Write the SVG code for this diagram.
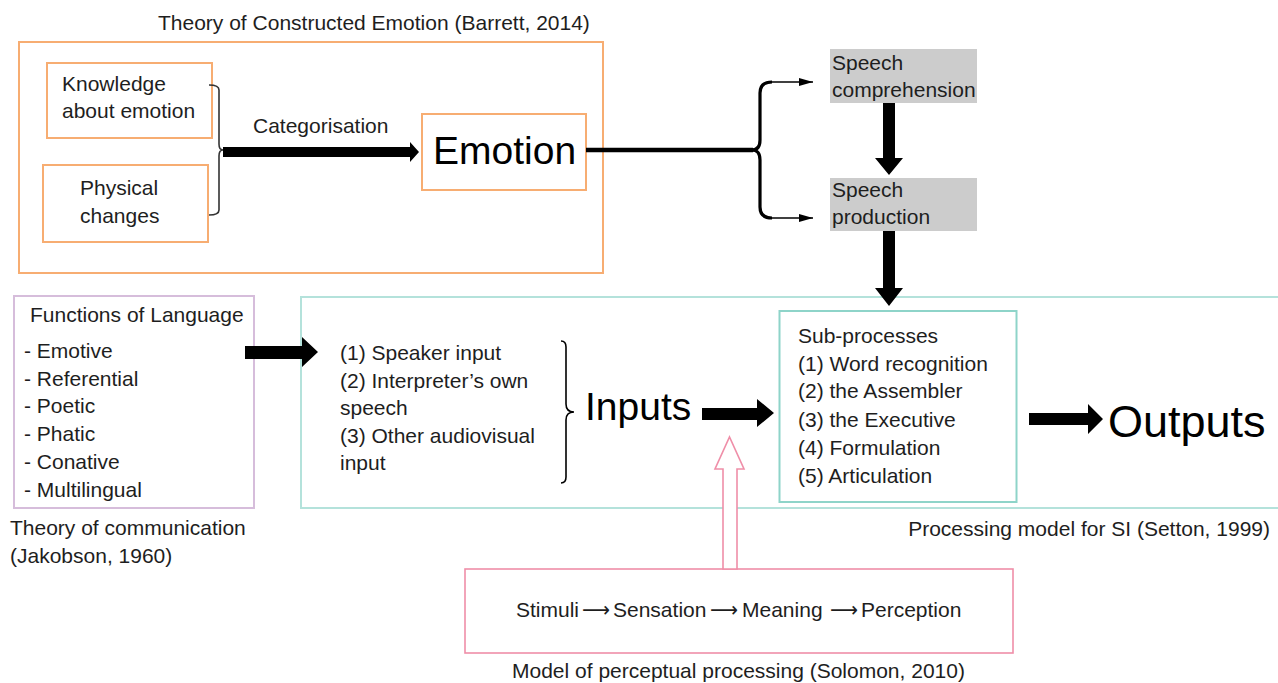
<svg xmlns="http://www.w3.org/2000/svg" width="1278" height="683" viewBox="0 0 1278 683">
  <style>
    text { font-family: "Liberation Sans", Arial, sans-serif; font-size: 21px; fill: #1e1e1e; }
    .big { font-size: 39px; fill: #000; }
    .huge { font-size: 45px; fill: #000; }
    .orange { fill: #fff; stroke: #f7ad72; stroke-width: 2; }
    .teal-outer { fill: none; stroke: #b4e2db; stroke-width: 2; }
    .teal { fill: none; stroke: #8ed4c9; stroke-width: 2; }
    .purple { fill: none; stroke: #d6bddb; stroke-width: 2; }
    .pink { fill: #fff; stroke: #ef8ea8; stroke-width: 1.6; }
    .grey { fill: #cccccc; }
    .solid { fill: #000; }
    .thin { fill: none; stroke: #000; stroke-width: 1.6; }
    .arr { font-family: "DejaVu Sans", sans-serif; font-size: 21px; }
  </style>
  <defs>
    <marker id="head" markerWidth="14" markerHeight="8" refX="14" refY="4" orient="auto" markerUnits="userSpaceOnUse">
      <path d="M0,0 L14,4 L0,8 Z" fill="#000"/>
    </marker>
  </defs>

  <rect width="1278" height="683" fill="#fff"/>

  <!-- Theory of Constructed Emotion -->
  <g id="constructed-emotion">
    <rect class="orange" x="19" y="42" width="584" height="231"/>
    <text x="158" y="30">Theory of Constructed Emotion (Barrett, 2014)</text>
  </g>
  <g id="knowledge">
    <rect class="orange" x="47" y="63" width="165" height="75"/>
    <text x="62" y="91">Knowledge</text>
    <text x="62" y="118">about emotion</text>
  </g>
  <g id="physical">
    <rect class="orange" x="43" y="165" width="165" height="77"/>
    <text x="80" y="195">Physical</text>
    <text x="80" y="223">changes</text>
  </g>
  <g id="emotion">
    <rect class="orange" x="422" y="114" width="164" height="76"/>
    <text class="big" x="433" y="164">Emotion</text>
  </g>

  <!-- Speech stages -->
  <g id="comprehension">
    <rect class="grey" x="830" y="49" width="147" height="54"/>
    <text x="832" y="70">Speech</text>
    <text x="832" y="97">comprehension</text>
  </g>
  <g id="production">
    <rect class="grey" x="830" y="178" width="147" height="53"/>
    <text x="832" y="197">Speech</text>
    <text x="832" y="224">production</text>
  </g>

  <!-- Functions of language -->
  <g id="functions">
    <rect class="purple" x="14" y="296" width="240" height="212"/>
    <text x="30" y="322">Functions of Language</text>
    <text x="24" y="358">- Emotive</text>
    <text x="24" y="386">- Referential</text>
    <text x="24" y="413">- Poetic</text>
    <text x="24" y="441">- Phatic</text>
    <text x="24" y="469">- Conative</text>
    <text x="24" y="497">- Multilingual</text>
    <text x="10" y="535">Theory of communication</text>
    <text x="10" y="563">(Jakobson, 1960)</text>
  </g>

  <!-- Processing model for SI -->
  <g id="processing-model">
    <rect class="teal-outer" x="301" y="297" width="1010" height="211"/>
    <text x="1270" y="536" text-anchor="end">Processing model for SI (Setton, 1999)</text>
  </g>
  <g id="inputs">
    <text x="340" y="360">(1) Speaker input</text>
    <text x="340" y="388">(2) Interpreter’s own</text>
    <text x="340" y="415">speech</text>
    <text x="340" y="443">(3) Other audiovisual</text>
    <text x="340" y="470">input</text>
    <path class="thin" d="M561,341 Q566,341 566,347 L566,404 Q566,412 574,412 Q566,412 566,420 L566,477 Q566,483 561,483" stroke-width="2.2"/>
    <text class="big" x="585" y="420">Inputs</text>
  </g>
  <g id="sub-processes">
    <rect class="teal" x="779.5" y="311" width="237" height="191"/>
    <text x="798" y="343">Sub-processes</text>
    <text x="798" y="371">(1) Word recognition</text>
    <text x="798" y="398">(2) the Assembler</text>
    <text x="798" y="427">(3) the Executive</text>
    <text x="798" y="455">(4) Formulation</text>
    <text x="798" y="483">(5) Articulation</text>
  </g>
  <g id="outputs">
    <text class="huge" x="1108" y="437">Outputs</text>
  </g>

  <!-- Perceptual processing -->
  <g id="perceptual">
    <rect class="pink" x="465" y="569" width="548" height="84"/>
    <text x="516" y="617">Stimuli</text>
    <text class="arr" x="582" y="617" textLength="28" lengthAdjust="spacingAndGlyphs">⟶</text>
    <text x="613" y="617">Sensation</text>
    <text class="arr" x="710" y="617" textLength="28" lengthAdjust="spacingAndGlyphs">⟶</text>
    <text x="742" y="617">Meaning</text>
    <text class="arr" x="830" y="617" textLength="28" lengthAdjust="spacingAndGlyphs">⟶</text>
    <text x="861" y="617">Perception</text>
    <text x="512" y="678">Model of perceptual processing (Solomon, 2010)</text>
  </g>

  <!-- Connectors -->
  <g id="connectors">
    <!-- bracket joining the two emotion ingredients -->
    <path d="M209,85 Q219,85 219,90 L219,144 Q219,150 223,150 Q219,150 219,156 L219,210 Q219,215 209,215" fill="none" stroke="#333" stroke-width="1.6"/>
    <!-- categorisation arrow -->
    <polygon class="solid" points="223,147 410,147 410,142 419,152 410,162 410,157 223,157"/>
    <text x="253" y="133">Categorisation</text>
    <!-- emotion to speech stages -->
    <line x1="586" y1="150" x2="753" y2="150" stroke="#000" stroke-width="4.5"/>
    <path d="M752,150 Q760,150 760,140 L760,93 Q760,82 772,82" fill="none" stroke="#000" stroke-width="3.2"/>
    <path d="M752,150 Q760,150 760,160 L760,207 Q760,218 772,218" fill="none" stroke="#000" stroke-width="3.2"/>
    <line x1="770" y1="82" x2="813" y2="82" stroke="#000" stroke-width="1.6" marker-end="url(#head)"/>
    <line x1="770" y1="218" x2="813" y2="218" stroke="#000" stroke-width="1.6" marker-end="url(#head)"/>
    <!-- comprehension to production -->
    <polygon class="solid" points="883,103 895,103 895,158 903,158 889,175 875,158 883,158"/>
    <!-- production to sub-processes -->
    <polygon class="solid" points="883,231 895,231 895,288 903,288 889,306 875,288 883,288"/>
    <!-- functions of language to inputs -->
    <polygon class="solid" points="245,346 302,346 302,337 318,352 302,367 302,359 245,359"/>
    <!-- inputs to sub-processes -->
    <polygon class="solid" points="702,408 757,408 757,399 774,413 757,427 757,420 702,420"/>
    <!-- sub-processes to outputs -->
    <polygon class="solid" points="1029,413 1088,413 1088,404 1103,419 1088,434 1088,425 1029,425"/>
    <!-- perception feeding the inputs arrow -->
    <polygon class="pink" points="723,569 723,469 715,469 729.5,437 744,469 737,469 737,569"/>
  </g>
</svg>
